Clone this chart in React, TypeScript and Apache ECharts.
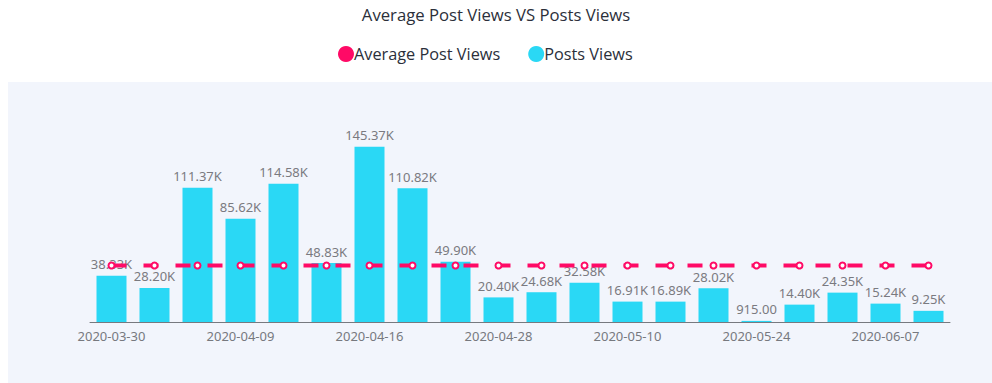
import React, { useEffect, useRef } from "react";
import * as echarts from "echarts";

const categories = [
  "2020-03-30", "2020-04-02", "2020-04-06", "2020-04-09", "2020-04-11",
  "2020-04-14", "2020-04-16", "2020-04-20", "2020-04-24", "2020-04-28",
  "2020-05-02", "2020-05-06", "2020-05-10", "2020-05-15", "2020-05-20",
  "2020-05-24", "2020-05-28", "2020-06-02", "2020-06-07", "2020-06-12",
];

const postsViews = [
  38330, 28200, 111370, 85620, 114580, 48830, 145370, 110820, 49900, 20400,
  24680, 32580, 16910, 16890, 28020, 915, 14400, 24350, 15240, 9250,
];

const averagePostViews = 46833;

const fmt = (v: number) => (v >= 1000 ? (v / 1000).toFixed(2) + "K" : v.toFixed(2));

export default function App() {
  const ref = useRef<HTMLDivElement>(null);
  useEffect(() => {
    document.body.style.margin = "0";
    if (!ref.current) return;
    const chart = echarts.init(ref.current, null, { renderer: "svg" });
    chart.setOption({
      animation: false,
      title: {
        text: "Average Post Views VS Posts Views",
        left: "center",
        top: 1,
        textStyle: { fontFamily: "Open Sans", fontSize: 16.7, fontWeight: "normal", color: "#2b2f3a" },
      },
      legend: {
        top: 41,
        left: 333,
        icon: "circle",
        itemWidth: 16,
        itemHeight: 16,
        itemGap: 28,
        textStyle: { fontFamily: "Open Sans", fontSize: 16.3, color: "#2b2f3a", padding: [0, 0, 0, -5] },
        data: ["Average Post Views", "Posts Views"],
      },
      graphic: [
        {
          type: "rect",
          z: -10,
          silent: true,
          shape: { x: 8, y: 82, width: 984, height: 301 },
          style: { fill: "#f2f5fc" },
        },
      ],
      grid: { left: 90, right: 42, top: 129, bottom: 61 },
      xAxis: {
        type: "category",
        data: categories,
        axisLine: { lineStyle: { color: "#77797f" } },
        axisTick: { alignWithLabel: true, length: 5, lineStyle: { color: "#77797f" } },
        axisLabel: { interval: 2, color: "#77797f", fontSize: 13, fontFamily: "Noto Sans", margin: 7 },
      },
      yAxis: { type: "value", min: 0, max: 160000, show: false, splitLine: { show: false } },
      series: [
        {
          name: "Posts Views",
          type: "bar",
          data: postsViews,
          barWidth: 30,
          itemStyle: { color: "#2ad8f5" },
          label: {
            show: true,
            position: "top",
            color: "#7a7a80",
            fontSize: 13,
            fontFamily: "Noto Sans",
            formatter: (p: any) => fmt(p.value),
          },
          z: 2,
        },
        {
          name: "Average Post Views",
          type: "line",
          data: categories.map(() => averagePostViews),
          symbol: "emptyCircle",
          symbolSize: 6,
          itemStyle: { color: "#ff0a66", borderWidth: 1.5 },
          lineStyle: { color: "#ff0a66", width: 4, type: [15, 17] },
          z: 5,
        },
      ],
    });
    return () => chart.dispose();
  }, []);
  return <div ref={ref} style={{ width: 992, height: 383 }} />;
}
